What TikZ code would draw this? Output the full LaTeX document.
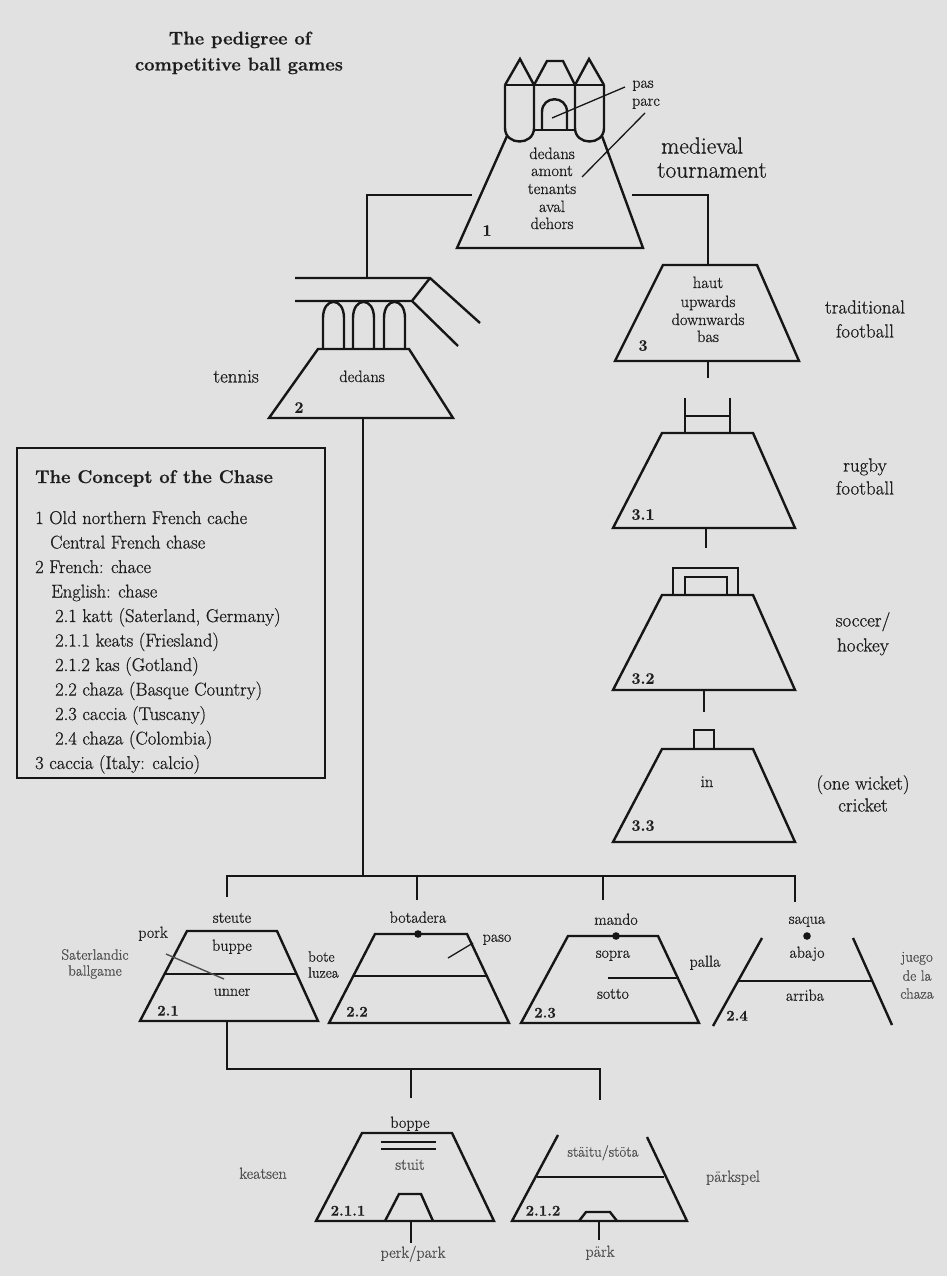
\documentclass[tikz,border=0pt]{standalone}
\usepackage{fontspec}
\setmainfont{Latin Modern Roman}[FakeBold=0.7]
\definecolor{bgc}{RGB}{224,225,224}
\definecolor{inkc}{RGB}{22,22,22}
\definecolor{txtc}{RGB}{30,30,30}
\definecolor{softc}{RGB}{80,80,80}
\begin{document}
\begin{tikzpicture}[x=1pt,y=-1pt,
  shp/.style={draw=inkc, line width=2.4pt, line join=miter},
  conn/.style={draw=inkc, line width=1.6pt},
  lead/.style={draw=inkc, line width=1.3pt},
  leadsoft/.style={draw=softc, line width=1.4pt},
  lab/.style={inner sep=0pt, text=txtc},
  soft/.style={text=softc},
  fTitle/.style={font=\bfseries\fontsize{18.4}{22}\selectfont, text height=13pt, text depth=4pt},
  fBox/.style={font=\fontsize{18.5}{22}\selectfont},
  fBoxT/.style={font=\bfseries\fontsize{18.4}{22}\selectfont},
  fBig/.style={font=\fontsize{23.5}{25}\selectfont, text height=16pt, text depth=4.8pt},
  fSide/.style={font=\fontsize{19}{22}\selectfont, text height=13pt, text depth=4pt},
  fMid/.style={font=\fontsize{16.5}{18}\selectfont, text height=11.5pt, text depth=3.5pt},
  fSm/.style={font=\fontsize{16}{18}\selectfont, text height=11pt, text depth=3.5pt},
  fXs/.style={font=\fontsize{15}{16}\selectfont, text height=10.5pt, text depth=3.2pt},
  fNum/.style={font=\bfseries\fontsize{16}{18}\selectfont, text height=11pt, text depth=3.5pt},
  fNumS/.style={font=\bfseries\fontsize{15}{18}\selectfont, text height=10.5pt, text depth=3.2pt}
]
\useasboundingbox (0,0) rectangle (947,1276);
\fill[bgc] (0,0) rectangle (947,1276);

% ---------------- title ----------------
\node[lab,fTitle] (title1) at (240,40) {The pedigree of};
\node[lab,fTitle] (title2) at (239,66) {competitive ball games};

% ---------------- 1: castle / medieval tournament ----------------
\draw[shp] (505,85) -- (604,85);
\draw[shp] (505,85) -- (520,59) -- (534,85) -- (547,61) -- (563,61) -- (575,85) -- (589,59) -- (604,85);
\draw[shp] (505,85) -- (505,128) .. controls (505,146) and (534,146) .. (534,128) -- (534,85);
\draw[shp] (575,85) -- (575,128) .. controls (575,146) and (604,146) .. (604,128) -- (604,85);
\draw[shp] (534,130) -- (575,130);
\draw[shp] (542,130) -- (542,112) .. controls (542,95) and (567,95) .. (567,112) -- (567,130);
\draw[shp] (507,136) -- (457,248) -- (643,248) -- (602,136);
\coordinate (door) at (552,118);
\coordinate (doorEnd) at (625,87);
\coordinate (parcA) at (582,177);
\coordinate (parcB) at (645,113);
\draw[lead] (door) -- (doorEnd);
\draw[lead] (parcA) -- (parcB);
\node[lab,fSm] (pas) at (643,84) {pas};
\node[lab,fSm] (parc) at (646,102) {parc};
\node[lab,fMid] (c1a) at (552,155) {dedans};
\node[lab,fMid] (c1b) at (552,172) {amont};
\node[lab,fMid] (c1c) at (552,190) {tenants};
\node[lab,fMid] (c1d) at (552,208) {aval};
\node[lab,fMid] (c1e) at (552,225) {dehors};
\node[lab,fNum] (n1) at (487,232) {1};
\node[lab,fBig,anchor=west] (med1) at (661,148) {medieval};
\node[lab,fBig,anchor=west] (med2) at (657,172) {tournament};

% ---------------- 2: tennis ----------------
\draw[shp] (295,278) -- (430,278) -- (480,323);
\draw[shp] (295,301) -- (412,301) -- (458,346);
\draw[shp] (430,278) -- (412,301);
\draw[shp] (323,349) -- (323,318) .. controls (323,296.5) and (344,296.5) .. (344,318) -- (344,349);
\draw[shp] (353,349) -- (353,318) .. controls (353,296.5) and (374,296.5) .. (374,318) -- (374,349);
\draw[shp] (384,349) -- (384,318) .. controls (384,296.5) and (405,296.5) .. (405,318) -- (405,349);
\draw[shp] (318,349) -- (409,349) -- (453,418) -- (269,418) -- cycle;
\node[lab,fMid] (c2a) at (362,378) {dedans};
\node[lab,fNum] (n2) at (299,409) {2};
\node[lab,fSide,anchor=east] (tennis) at (259,378) {tennis};

% ---------------- 3: traditional football ----------------
\draw[shp] (663,265) -- (757,265) -- (799,361) -- (615,361) -- cycle;
\node[lab,fMid] (c3a) at (708,284) {haut};
\node[lab,fMid] (c3b) at (708,303) {upwards};
\node[lab,fMid] (c3c) at (708,321) {downwards};
\node[lab,fMid] (c3d) at (708,338) {bas};
\node[lab,fNum] (n3) at (643,347) {3};
\node[lab,fSide] (trad1) at (865,309) {traditional};
\node[lab,fSide] (trad2) at (865,333) {football};

% ---------------- 3.1 rugby ----------------
\draw[shp] (685,398) -- (685,433);
\draw[shp] (730,398) -- (730,433);
\draw[shp] (685,416) -- (730,416);
\draw[shp] (662,433) -- (753,433) -- (795,528) -- (613,528) -- cycle;
\node[lab,fNum] (n31) at (643,516) {3.1};
\node[lab,fSide] (rug1) at (865,467) {rugby};
\node[lab,fSide] (rug2) at (865,490) {football};

% ---------------- 3.2 soccer ----------------
\draw[shp] (673,595) -- (673,568) -- (738,568) -- (738,595);
\draw[shp] (685,595) -- (685,577) -- (727,577) -- (727,595);
\draw[shp] (662,595) -- (753,595) -- (795,690) -- (613,690) -- cycle;
\node[lab,fNum] (n32) at (643,680) {3.2};
\node[lab,fSide] (soc1) at (863,622) {soccer/};
\node[lab,fSide] (soc2) at (863,647) {hockey};

% ---------------- 3.3 cricket ----------------
\draw[shp] (694,749) -- (694,730) -- (714,730) -- (714,749);
\draw[shp] (662,749) -- (753,749) -- (795,842) -- (613,842) -- cycle;
\node[lab,fMid] (c33) at (707,783) {in};
\node[lab,fNum] (n33) at (643,827) {3.3};
\node[lab,fSide] (cri1) at (863,785) {(one wicket)};
\node[lab,fSide] (cri2) at (863,807) {cricket};

% ---------------- box ----------------
\draw[draw=inkc, line width=1.7pt] (17,448) rectangle (325,778);
\node[lab,fBoxT,anchor=base west] (bx0) at (35,483) {The Concept of the Chase};
\node[lab,fBox,anchor=base west] (bx1) at (35,524) {1 Old northern French cache};
\node[lab,fBox,anchor=base west] (bx2) at (50,548.5) {Central French chase};
\node[lab,fBox,anchor=base west] (bx3) at (35,573) {2 French: chace};
\node[lab,fBox,anchor=base west] (bx4) at (51,597.5) {English: chase};
\node[lab,fBox,anchor=base west] (bx5) at (55,622) {2.1 katt (Saterland, Germany)};
\node[lab,fBox,anchor=base west] (bx6) at (55,646.5) {2.1.1 keats (Friesland)};
\node[lab,fBox,anchor=base west] (bx7) at (55,671) {2.1.2 kas (Gotland)};
\node[lab,fBox,anchor=base west] (bx8) at (55,695.5) {2.2 chaza (Basque Country)};
\node[lab,fBox,anchor=base west] (bx9) at (55,720) {2.3 caccia (Tuscany)};
\node[lab,fBox,anchor=base west] (bx10) at (55,744.5) {2.4 chaza (Colombia)};
\node[lab,fBox,anchor=base west] (bx11) at (35,769) {3 caccia (Italy: calcio)};

% ---------------- 2.1 ----------------
\draw[shp] (187,931) -- (277,931) -- (318,1021) -- (140,1021) -- cycle;
\draw[shp] (164.5,974) -- (296.6,974);
\coordinate (porkA) at (166,954);
\coordinate (porkB) at (224,979);
\draw[leadsoft] (porkA) -- (porkB);
\node[lab,fSm] (steute) at (232,919) {steute};
\node[lab,fSm] (buppe) at (232,947) {buppe};
\node[lab,fSm] (unner) at (232,992) {unner};
\node[lab,fSm] (pork) at (153,934) {pork};
\node[lab,fXs,soft] (sat1) at (95,956) {Saterlandic};
\node[lab,fXs,soft] (sat2) at (95,972) {ballgame};
\node[lab,fXs,anchor=west] (bote) at (308,958) {bote};
\node[lab,fXs,anchor=west] (luzea) at (308,974) {luzea};
\node[lab,fNumS] (n21) at (168,1012) {2.1};

% ---------------- 2.2 ----------------
\draw[shp] (375,934) -- (467,934) -- (509,1023) -- (329,1023) -- cycle;
\draw[shp] (353.3,976) -- (486.8,976);
\fill[inkc] (418,934) circle (3.8pt);
\coordinate (pasoA) at (448,958);
\coordinate (pasoB) at (473,943);
\draw[lead] (pasoA) -- (pasoB);
\node[lab,fSm] (botadera) at (418,919) {botadera};
\node[lab,fSm] (paso) at (497,938) {paso};
\node[lab,fNumS] (n22) at (357,1013) {2.2};

% ---------------- 2.3 ----------------
\draw[shp] (568,936) -- (658,936) -- (699,1023) -- (521,1023) -- cycle;
\draw[shp] (608,978) -- (677.8,978);
\fill[inkc] (616,936) circle (3.8pt);
\node[lab,fSm] (mando) at (616,921) {mando};
\node[lab,fSm] (sopra) at (613,954) {sopra};
\node[lab,fSm] (sotto) at (613,995) {sotto};
\node[lab,fSm] (palla) at (705,963) {palla};
\node[lab,fNumS] (n23) at (545,1014) {2.3};

% ---------------- 2.4 ----------------
\draw[shp] (762,938) -- (713,1026);
\draw[shp] (853,938) -- (892,1025);
\draw[shp] (738,981) -- (872,981);
\fill[inkc] (807,936) circle (3.8pt);
\node[lab,fSm] (saqua) at (807,920) {saqua};
\node[lab,fSm] (abajo) at (807,954) {abajo};
\node[lab,fSm] (arriba) at (805,997) {arriba};
\node[lab,fNumS] (n24) at (737,1017) {2.4};
\node[lab,fXs,soft] (jg1) at (917,958) {juego};
\node[lab,fXs,soft] (jg2) at (917,977) {de la};
\node[lab,fXs,soft] (jg3) at (917,995) {chaza};

% ---------------- 2.1.1 ----------------
\draw[shp] (362,1133) -- (452,1133) -- (494,1221) -- (316,1221) -- cycle;
\draw[shp] (381,1142) -- (436,1142);
\draw[shp] (381,1149) -- (436,1149);
\draw[shp] (385,1221) -- (399,1194) -- (421,1194) -- (433,1221);
\coordinate (pk1A) at (411,1221);
\coordinate (pk1B) at (411,1243);
\draw[conn] (pk1A) -- (pk1B);
\node[lab,fSm] (boppe) at (410,1124) {boppe};
\node[lab,fSm,soft] (stuit) at (410,1166) {stuit};
\node[lab,fNumS] (n211) at (348,1212) {2.1.1};
\node[lab,fSm,soft] (perk) at (413,1254) {perk/park};
\node[lab,fSm,soft] (keatsen) at (263,1175) {keatsen};

% ---------------- 2.1.2 ----------------
\draw[shp] (558,1135) -- (512,1221) -- (687,1221) -- (647,1137);
\draw[shp] (537,1177) -- (664,1177);
\draw[shp] (579,1221) -- (586,1212) -- (610,1212) -- (617,1221);
\coordinate (pk2A) at (599,1221);
\coordinate (pk2B) at (599,1240);
\draw[conn] (pk2A) -- (pk2B);
\node[lab,fXs,soft] (staitu) at (603,1153) {stäitu/stöta};
\node[lab,fNumS] (n212) at (543,1212) {2.1.2};
\node[lab,fSm,soft] (park) at (600,1253) {pärk};
\node[lab,fSm,soft] (parkspel) at (733,1178) {pärkspel};

% ---------------- connectors ----------------
\coordinate (castleL) at (472,195);
\coordinate (castleR) at (632,195);
\coordinate (tenTop) at (367,278);
\coordinate (tenBot) at (363,418);
\coordinate (fbTop) at (708,265);
\coordinate (fbBot) at (708,361);
\coordinate (fbTail) at (708,378);
\coordinate (rgBot) at (706,528);
\coordinate (rgTail) at (706,548);
\coordinate (scBot) at (704,690);
\coordinate (scTail) at (704,712);
\coordinate (busJ) at (363,876);
\coordinate (d21) at (227,897);
\coordinate (d22) at (417,900);
\coordinate (d23) at (603,900);
\coordinate (d24) at (795,902);
\coordinate (t21Bot) at (227,1021);
\coordinate (sbR) at (600,1069);
\coordinate (d211) at (411,1098);
\coordinate (d212) at (600,1100);

\draw[conn] (castleL) -| (tenTop);
\draw[conn] (castleR) -| (fbTop);
\draw[conn] (fbBot) -- (fbTail);
\draw[conn] (rgBot) -- (rgTail);
\draw[conn] (scBot) -- (scTail);
\draw[conn] (tenBot) -- (busJ);
\draw[conn] (d21) |- (busJ) -| (d24);
\draw[conn] (d22) -- (d22 |- busJ);
\draw[conn] (d23) -- (d23 |- busJ);
\draw[conn] (t21Bot) |- (sbR) -- (d212);
\draw[conn] (d211) -- (d211 |- sbR);
\end{tikzpicture}
\end{document}
